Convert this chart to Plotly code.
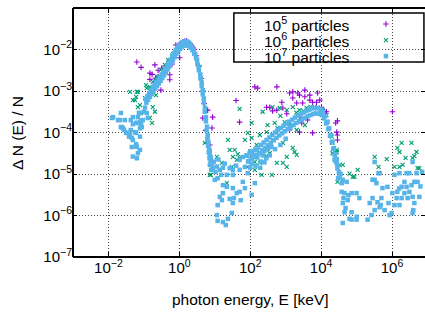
import plotly.graph_objects as go

# ---- data: (log10 E [keV], log10 dN/N) ----
pts_1e5 = [
    (-1.20, -2.30), (-1.08, -2.43), (-0.83, -2.57), (-0.83, -2.72), (-0.77, -2.60),
    (-0.69, -2.37), (-0.66, -2.69), (-0.60, -2.50), (-0.52, -2.98), (-0.50, -2.45),
    (-0.40, -2.40), (-0.32, -2.42), (-0.27, -2.61), (-0.27, -2.73), (-0.20, -2.35),
    (-0.10, -1.89), (-0.05, -2.05), (0.01, -2.20), (0.05, -1.84), (0.10, -1.82),
    (0.15, -1.80), (0.20, -1.79), (0.24, -1.82), (0.30, -1.86), (0.36, -1.92),
    (0.42, -2.00), (0.48, -2.15), (0.56, -2.40), (0.62, -2.70), (0.66, -3.00),
    (0.70, -3.30), (0.66, -3.65), (0.80, -3.46), (0.92, -3.89), (0.94, -3.63),
    (0.77, -4.25), (0.86, -4.30), (0.74, -3.95), (-0.60, -2.65), (-0.45, -2.50),
    (-0.35, -2.38), (-0.15, -2.08),
    (1.60, -3.23), (1.70, -3.75), (2.13, -2.90), (2.21, -2.93), (2.75, -2.90),
    (2.46, -3.39), (2.55, -3.39), (2.63, -3.48), (2.89, -3.27), (2.92, -3.41),
    (3.11, -3.05), (3.20, -3.02), (3.20, -3.17), (3.34, -3.05), (3.39, -3.10),
    (3.31, -3.29), (3.48, -3.29), (3.54, -2.98), (3.54, -3.14), (3.68, -3.10),
    (3.68, -3.22), (3.76, -3.27), (3.87, -3.27), (3.90, -3.05), (3.96, -3.22),
    (4.01, -3.39), (4.10, -3.50), (4.15, -3.50), (4.10, -3.55), (3.45, -3.77),
    (3.11, -3.94), (3.62, -3.70), (3.39, -3.63), (3.76, -4.01), (3.39, -3.99),
    (4.41, -3.77), (4.46, -3.72), (4.44, -3.99), (4.46, -4.06), (4.46, -4.18),
    (6.01, -3.50), (2.75, -3.46), (3.03, -3.55), (3.85, -3.40), (3.95, -3.42),
]

pts_1e6 = [
    (-1.39, -3.02), (-1.20, -3.02), (-1.31, -3.22), (-1.25, -3.22), (-1.17, -3.02),
    (-1.17, -3.39), (-1.11, -3.34), (-1.08, -3.53), (-0.97, -3.17), (-0.94, -2.86),
    (-0.92, -2.93), (-0.83, -2.90), (-0.83, -3.65), (-0.77, -3.77), (-0.75, -2.78),
    (-0.75, -3.39), (-0.69, -2.73), (-0.69, -3.50), (-0.66, -3.10), (-0.63, -2.66),
    (-0.61, -2.66), (-0.52, -2.49), (-0.41, -2.37), (-0.32, -2.25), (-1.22, -3.14),
    (-0.20, -2.15), (0.00, -1.90), (0.20, -1.83), (0.40, -2.00), (0.60, -2.70),
    (0.72, -3.50), (0.80, -4.10), (0.72, -4.25),
    (0.86, -5.02), (0.89, -5.02), (1.06, -4.59), (1.20, -4.73), (1.34, -5.22),
    (1.37, -4.18), (1.42, -4.42), (1.48, -4.83), (1.51, -4.59), (1.56, -4.42),
    (1.62, -4.66), (1.65, -4.52), (1.70, -3.43), (1.70, -4.61), (1.85, -4.18),
    (1.93, -4.01), (1.93, -4.83), (2.04, -3.77), (2.04, -4.13), (2.13, -4.71),
    (2.13, -4.90), (2.18, -4.30), (2.27, -4.06), (2.27, -4.73), (2.32, -5.02),
    (2.35, -3.50), (2.46, -3.99), (2.46, -4.57), (2.49, -3.82), (2.55, -4.50),
    (2.61, -5.02), (2.63, -3.39), (2.63, -4.18), (2.69, -3.77), (2.75, -4.73),
    (2.77, -3.89), (2.83, -3.41), (2.92, -4.25), (2.92, -4.73), (2.97, -3.75),
    (3.03, -3.46), (3.03, -4.59), (3.03, -4.83), (3.11, -3.82), (3.20, -3.39),
    (3.20, -4.37), (3.25, -4.47), (3.31, -3.94), (3.31, -4.54), (3.39, -3.46),
    (3.54, -3.82), (3.59, -3.41), (3.82, -3.39), (4.01, -3.46), (4.04, -3.46),
    (4.15, -3.58), (4.15, -3.77), (4.30, -4.10), (4.32, -4.25), (4.44, -4.42),
    (3.70, -3.38), (3.90, -3.40), (3.30, -3.52), (3.50, -3.48), (2.85, -3.60),
    (4.32, -4.50), (4.44, -4.47), (4.52, -4.78), (4.61, -4.78), (4.46, -5.19),
    (4.80, -4.99), (4.94, -5.07), (5.03, -4.90), (4.89, -5.07), (5.51, -4.59),
    (5.85, -4.64), (5.62, -4.83), (6.07, -4.83), (6.21, -4.83), (6.30, -4.78),
    (6.38, -4.61), (6.63, -4.57), (6.69, -4.47), (6.72, -4.86), (6.77, -4.86),
    (6.27, -4.25), (6.55, -4.25), (6.15, -4.37), (6.21, -4.47), (6.58, -4.61),
]

pts_1e7 = [
    # low-energy scatter
    (-1.90, -3.65), (-1.87, -3.63), (-1.73, -3.70), (-1.68, -3.70), (-1.65, -3.53),
    (-1.65, -3.87), (-1.62, -3.87), (-1.59, -3.90), (-1.56, -3.94), (-1.54, -3.70),
    (-1.50, -4.01), (-1.48, -4.00), (-1.42, -4.10), (-1.39, -4.06), (-1.37, -3.70),
    (-1.37, -3.94), (-1.34, -4.13), (-1.34, -4.35), (-1.31, -3.80), (-1.31, -3.63),
    (-1.31, -4.18), (-1.31, -4.58), (-1.25, -3.99), (-1.22, -3.77), (-1.22, -4.01),
    (-1.22, -4.28), (-1.22, -4.33), (-1.20, -4.35), (-1.20, -4.62), (-1.17, -3.63),
    (-1.17, -4.50), (-1.14, -3.53), (-1.11, -3.53), (-1.11, -3.75), (-1.11, -3.90),
    (-1.11, -4.10), (-1.11, -4.42), (-1.08, -3.72), (-1.08, -3.82), (-1.06, -3.87),
    (-1.03, -3.70), (-1.00, -3.50), (-0.92, -3.53), (-0.89, -3.65), (-1.20, -3.77),
    (-0.97, -3.40),
    # first peak, upper row
    (-0.95, -3.19), (-0.90, -3.12), (-0.85, -3.05), (-0.80, -2.98), (-0.75, -2.91),
    (-0.70, -2.85), (-0.65, -2.79), (-0.60, -2.73), (-0.55, -2.67), (-0.50, -2.60),
    (-0.45, -2.53), (-0.40, -2.46), (-0.35, -2.39), (-0.30, -2.32), (-0.25, -2.25),
    (-0.20, -2.17), (-0.15, -2.09), (-0.10, -2.01), (-0.05, -1.94), (0.00, -1.89),
    (0.05, -1.85), (0.10, -1.82), (0.15, -1.80), (0.20, -1.80), (0.25, -1.82),
    (0.30, -1.86), (0.35, -1.92), (0.40, -2.00), (0.45, -2.11), (0.50, -2.25),
    (0.55, -2.42), (0.59, -2.60), (0.63, -2.80), (0.66, -2.98), (0.69, -3.18),
    (0.72, -3.40), (0.75, -3.63), (0.78, -3.86), (0.80, -4.06), (0.82, -4.23),
    (0.84, -4.40), (0.86, -4.54), (0.88, -4.68),
    # first peak, lower row
    (-0.93, -3.28), (-0.88, -3.21), (-0.83, -3.14), (-0.78, -3.07), (-0.73, -3.00),
    (-0.68, -2.94), (-0.63, -2.88), (-0.58, -2.82), (-0.53, -2.76), (-0.48, -2.69),
    (-0.43, -2.62), (-0.38, -2.55), (-0.33, -2.48), (-0.28, -2.41), (-0.23, -2.34),
    (-0.18, -2.26), (-0.13, -2.18), (-0.08, -2.10), (-0.03, -2.03), (0.02, -1.98),
    (0.07, -1.94), (0.12, -1.91), (0.17, -1.90), (0.22, -1.90), (0.27, -1.92),
    (0.32, -1.96), (0.37, -2.02), (0.42, -2.10), (0.47, -2.21), (0.51, -2.35),
    (0.55, -2.50), (0.60, -2.68), (0.63, -2.88), (0.66, -3.08), (0.69, -3.28),
    (0.72, -3.50), (0.75, -3.73), (0.77, -3.95), (0.79, -4.15), (0.81, -4.32),
    (0.83, -4.48), (0.85, -4.62), (0.86, -4.78),
    # trough
    (0.86, -4.45), (0.89, -4.60), (0.92, -4.75), (0.94, -4.86), (0.90, -4.90),
    (0.97, -4.70), (1.00, -5.14), (1.02, -4.95), (1.06, -4.82), (1.08, -5.10),
    (1.10, -4.65), (1.14, -4.90), (1.18, -5.02), (1.23, -4.85), (1.23, -5.27),
    (1.20, -5.63), (1.14, -5.55), (1.08, -5.75), (1.06, -5.99), (1.08, -6.13),
    (1.23, -6.16), (1.31, -6.23), (1.37, -6.08), (1.48, -5.94), (1.51, -5.70),
    (1.42, -5.60), (1.54, -5.58), (1.62, -5.46), (1.70, -5.43), (1.73, -5.63),
    (1.85, -5.34), (2.04, -5.50), (2.13, -5.22), (1.34, -5.31), (1.23, -5.46),
    (1.51, -5.02), (1.34, -5.02), (1.79, -5.19), (1.93, -4.98), (1.70, -4.90),
    (1.42, -4.86), (1.51, -4.90), (1.70, -4.66), (1.79, -4.59), (1.51, -5.34),
    (1.85, -4.83), (1.28, -4.75), (1.60, -4.80), (1.95, -4.70), (2.00, -4.85),
    (2.05, -4.62), (1.90, -4.55),
    (2.00, -4.45), (2.05, -4.75), (2.10, -4.55), (2.15, -4.80), (2.20, -4.60),
    (2.25, -4.50), (2.30, -4.70), (2.35, -4.55), (2.40, -4.45), (2.45, -4.62),
    (2.50, -4.40), (2.18, -4.42), (2.28, -4.85), (2.40, -4.72),
    # second hump, upper row
    (1.90, -4.56), (1.98, -4.50), (2.06, -4.46), (2.14, -4.41), (2.22, -4.36),
    (2.30, -4.30), (2.38, -4.24), (2.46, -4.18), (2.54, -4.12), (2.62, -4.06),
    (2.70, -4.00), (2.78, -3.94), (2.86, -3.89), (2.94, -3.84), (3.02, -3.79),
    (3.10, -3.74), (3.18, -3.69), (3.26, -3.64), (3.34, -3.60), (3.42, -3.56),
    (3.50, -3.52), (3.58, -3.48), (3.66, -3.45), (3.74, -3.42), (3.82, -3.41),
    (3.90, -3.41), (3.98, -3.44), (4.05, -3.50), (4.12, -3.60), (4.18, -3.74),
    (4.23, -3.90), (4.28, -4.06), (4.32, -4.22), (4.36, -4.38), (4.40, -4.52),
    (4.44, -4.64),
    # second hump, lower row
    (1.94, -4.69), (2.02, -4.63), (2.10, -4.59), (2.18, -4.54), (2.26, -4.49),
    (2.34, -4.43), (2.42, -4.37), (2.50, -4.31), (2.58, -4.25), (2.66, -4.19),
    (2.74, -4.13), (2.82, -4.07), (2.90, -4.02), (2.98, -3.97), (3.06, -3.92),
    (3.14, -3.87), (3.22, -3.82), (3.30, -3.77), (3.38, -3.73), (3.46, -3.69),
    (3.54, -3.65), (3.62, -3.61), (3.70, -3.58), (3.78, -3.55), (3.86, -3.54),
    (3.94, -3.55), (4.02, -3.58), (4.08, -3.66), (4.14, -3.78), (4.20, -3.92),
    (4.25, -4.08), (4.30, -4.24), (4.34, -4.40), (4.38, -4.55), (4.42, -4.70),
    (4.46, -4.80),
    (2.55, -4.55), (2.70, -4.40), (2.85, -4.30), (3.00, -4.15), (2.60, -4.35),
    # high-energy scatter
    (4.38, -4.66), (4.44, -4.73), (4.46, -4.86), (4.52, -5.07), (4.58, -5.22),
    (4.61, -5.14), (4.72, -5.19), (4.58, -5.43), (4.66, -5.46), (4.63, -5.58),
    (4.61, -5.70), (4.69, -5.82), (4.66, -5.92), (4.75, -5.63), (4.77, -5.51),
    (4.86, -5.46), (5.00, -5.46), (5.08, -5.58), (4.86, -5.92), (4.80, -6.08),
    (4.86, -6.10), (4.61, -6.18), (5.00, -6.03), (5.00, -6.10), (5.31, -6.10),
    (5.37, -5.70), (5.45, -5.58), (5.51, -5.14), (5.56, -5.22), (5.42, -5.99),
    (5.51, -5.87), (5.59, -5.68), (5.68, -5.75), (5.73, -5.34), (5.62, -4.98),
    (5.51, -4.71), (5.70, -5.58), (5.87, -5.31), (5.93, -5.99), (5.99, -5.94),
    (6.07, -5.75), (6.13, -5.58), (6.15, -5.43), (6.01, -5.46), (6.21, -5.75),
    (6.27, -5.31), (6.35, -5.19), (6.41, -5.31), (6.49, -5.43), (6.55, -5.27),
    (6.58, -5.55), (6.63, -5.19), (6.72, -5.19), (6.63, -5.70), (6.60, -5.87),
    (6.58, -5.94), (6.77, -5.55), (6.35, -5.46), (6.27, -5.58), (6.44, -5.58),
    (6.41, -4.98), (6.21, -4.98), (6.07, -5.02), (6.49, -4.98), (6.69, -4.98),
    (6.58, -4.71), (5.65, -4.98), (5.79, -5.87), (5.65, -5.80), (4.50, -4.95),
    (4.55, -5.00), (4.48, -5.10), (6.80, -5.30), (6.85, -4.95), (6.20, -5.35),
    (5.90, -5.70), (5.45, -5.14),
]

series_names = ["10<sup>5</sup> particles", "10<sup>6</sup> particles", "10<sup>7</sup> particles"]
series_colors = ["#9400D3", "#009E73", "#56B4E9"]

x_tick_exp = [-2, 0, 2, 4, 6]
y_tick_exp = [-7, -6, -5, -4, -3, -2, -1]

x_title = "photon energy, E [keV]"
y_title = "\u0394 N (E) / N"

FONT = "Liberation Sans, Arial, sans-serif"


def unpack(pts):
    return [10 ** a for a, b in pts], [10 ** b for a, b in pts]


def power_labels(exps):
    return ["10<sup>%s</sup>" % str(e).replace("-", "\u2212") for e in exps]


fig = go.Figure()
marker_styles = [
    dict(symbol="cross-thin", size=4, color=series_colors[0],
         line=dict(width=1.1, color=series_colors[0])),
    dict(symbol="x-thin", size=4, color=series_colors[1],
         line=dict(width=1.1, color=series_colors[1])),
    dict(symbol="square", size=4.5, color=series_colors[2], line=dict(width=0)),
]
for pts, name, ms in zip([pts_1e5, pts_1e6, pts_1e7], series_names, marker_styles):
    xs, ys = unpack(pts)
    fig.add_trace(go.Scatter(x=xs, y=ys, mode="markers", name=name,
                             marker=ms, showlegend=False, hoverinfo="skip"))

# legend keys (right of text, gnuplot style) on an overlay axis
LEG_KEY_X = 0.889
LEG_ROW_Y = [0.936, 0.871, 0.807]
for yk, name, ms in zip(LEG_ROW_Y, series_names, marker_styles):
    fig.add_trace(go.Scatter(x=[LEG_KEY_X], y=[yk], mode="markers", marker=ms,
                             xaxis="x2", yaxis="y2", showlegend=False,
                             hoverinfo="skip"))
    fig.add_annotation(xref="paper", yref="paper", x=0.793, y=yk, text=name,
                       showarrow=False, xanchor="right", yanchor="middle",
                       font=dict(family=FONT, size=15.5, color="black"))

fig.add_annotation(xref="paper", yref="paper", x=0.503, y=-0.169, text=x_title,
                   showarrow=False, xanchor="center", yanchor="middle",
                   font=dict(family=FONT, size=15.5, color="black"))
fig.add_annotation(xref="paper", yref="paper", x=-0.156, y=0.498, text=y_title,
                   showarrow=False, xanchor="center", yanchor="middle", textangle=-90,
                   font=dict(family=FONT, size=15.5, color="black"))

grid = dict(showgrid=True, gridcolor="#444444", griddash="1px,2px", gridwidth=1)
fig.update_layout(
    width=425, height=318,
    margin=dict(l=73, r=0, t=8, b=61, autoexpand=False),
    paper_bgcolor="white", plot_bgcolor="white",
    font=dict(family=FONT, size=15, color="black"),
    hovermode=False,
    xaxis=dict(type="log", range=[-3, 6.93], automargin=False,
               tickvals=[10 ** e for e in x_tick_exp], ticktext=power_labels(x_tick_exp),
               ticks="inside", ticklen=5, tickcolor="black", mirror="ticks",
               showline=False, zeroline=False, **grid),
    yaxis=dict(type="log", range=[-7, -1], automargin=False,
               tickvals=[10 ** e for e in y_tick_exp], ticktext=power_labels(y_tick_exp),
               ticks="inside", ticklen=4, tickcolor="black", mirror="ticks",
               showline=False, zeroline=False, **grid),
    xaxis2=dict(domain=[0, 1], range=[0, 1], overlaying="x", visible=False, fixedrange=True),
    yaxis2=dict(domain=[0, 1], range=[0, 1], overlaying="y", visible=False, fixedrange=True),
    shapes=[
        dict(type="line", xref="paper", yref="paper", x0=0, x1=0, y0=0, y1=1,
             line=dict(color="black", width=2)),
        dict(type="line", xref="paper", yref="paper", x0=0, x1=1, y0=0, y1=0,
             line=dict(color="black", width=2)),
        dict(type="line", xref="paper", yref="paper", x0=0, x1=1, y0=1, y1=1,
             line=dict(color="black", width=2)),
        dict(type="rect", xref="paper", yref="paper", x0=0.457, x1=0.997,
             y0=0.783, y1=0.98, line=dict(color="black", width=1.5),
             fillcolor="white", layer="below"),
    ],
)
fig.write_html("out.html", config={"displayModeBar": False},
               post_script="document.body.style.margin='0';document.body.style.overflow='hidden';")
